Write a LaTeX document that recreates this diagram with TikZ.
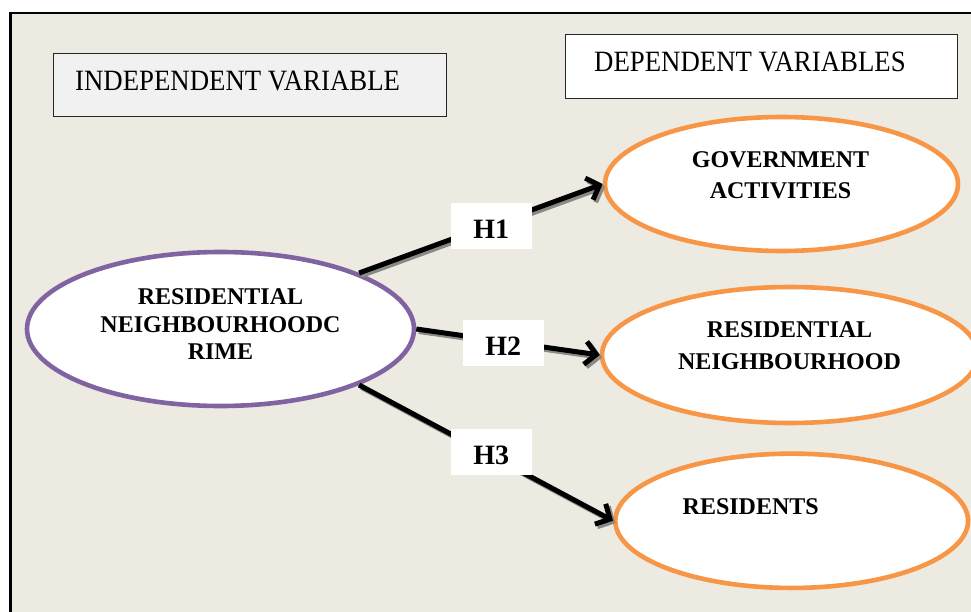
\documentclass[tikz,border=0pt]{standalone}
\usepackage{fontspec}
\setmainfont{Liberation Serif}
\usetikzlibrary{shapes.geometric,arrows.meta}
\definecolor{bg}{HTML}{EDEBE1}
\definecolor{boxgray}{HTML}{F1F1F1}
\definecolor{vpurple}{HTML}{8064A2}
\definecolor{vorange}{HTML}{F79646}
\definecolor{shadowgray}{HTML}{8A8A85}
\tikzset{
  titlebox/.style={draw=black!85, line width=1pt, inner sep=0pt},
  titletext/.style={font=\fontsize{26.8}{30}\selectfont, anchor=base west, inner sep=0pt, yscale=1.1},
  indep/.style={ellipse, draw=vpurple, fill=white, line width=4.6pt, inner sep=0pt},
  dep/.style={ellipse, draw=vorange, fill=white, line width=4.6pt, inner sep=0pt},
  vartext/.style={font=\fontsize{24}{27.5}\selectfont\bfseries, align=center, inner sep=0pt},
  hlabel/.style={fill=white, inner sep=0pt, minimum width=81pt, minimum height=46pt,
    font=\fontsize{28}{30}\selectfont\bfseries, text height=26pt, text depth=0pt},
  arrowline/.style={line width=5pt, -{Straight Barb[length=11pt,width=23pt]}},
  shadowline/.style={arrowline, draw=shadowgray}
}
\begin{document}
\begin{tikzpicture}[x=1pt,y=-1pt]
\useasboundingbox (0,0) rectangle (971,612);
\clip (0,0) rectangle (971,612);
\fill[white] (0,0) rectangle (971,612);
\draw[line width=2.8pt, fill=bg] (10.5,13) rectangle (995,640);

% title boxes
\node[titlebox, fill=boxgray, minimum width=393pt, minimum height=63pt, anchor=north west] (indbox) at (53,53) {};
\node[titletext] (indtext) at (75,91) {INDEPENDENT VARIABLE};
\node[titlebox, fill=white, minimum width=392pt, minimum height=64pt, anchor=north west] (depbox) at (565,34) {};
\node[titletext] (deptext) at (594,72) {DEPENDENT VARIABLES};

% ellipses
\node[indep, minimum width=387pt, minimum height=154pt] (L) at (220.5,329) {};
\node[dep, minimum width=353pt, minimum height=134pt] (G) at (781.5,184) {};
\node[dep, minimum width=376pt, minimum height=136pt] (N) at (790,355) {};
\node[dep, minimum width=352.7pt, minimum height=134.3pt] (R) at (791.7,520.8) {};

% ellipse texts
\node[vartext] (Lt) at (220.5,324.5) {RESIDENTIAL\\NEIGHBOURHOODC\\RIME};
\node[vartext, font=\fontsize{24}{31}\selectfont\bfseries] (Gt) at (780.5,175.5) {GOVERNMENT\\ACTIVITIES};
\node[vartext, font=\fontsize{24}{31.7}\selectfont\bfseries] (Nt) at (789.5,345.8) {RESIDENTIAL\\NEIGHBOURHOOD};
\node[vartext] (Rt) at (750.7,507) {RESIDENTS};

% connectors: shadows
\draw[shadowline] ([shift={(2.5,2.5)}]L.22) -- ([shift={(2.5,2.5)}]G.west);
\draw[shadowline] ([shift={(2.5,2.5)}]L.east) -- ([shift={(2.5,2.5)}]N.west);
\draw[shadowline] ([shift={(2.5,2.5)}]L.-22) -- ([shift={(2.5,2.5)}]R.west);
% connectors
\draw[arrowline] (L.22) -- (G.west);
\draw[arrowline] (L.east) -- (N.west);
\draw[arrowline] (L.-22) -- (R.west);

% hypothesis labels
\node[hlabel] (H1) at (491.2,225.8) {H1};
\node[hlabel] (H2) at (503.3,342.5) {H2};
\node[hlabel] (H3) at (491.3,451.7) {H3};
\end{tikzpicture}
\end{document}
